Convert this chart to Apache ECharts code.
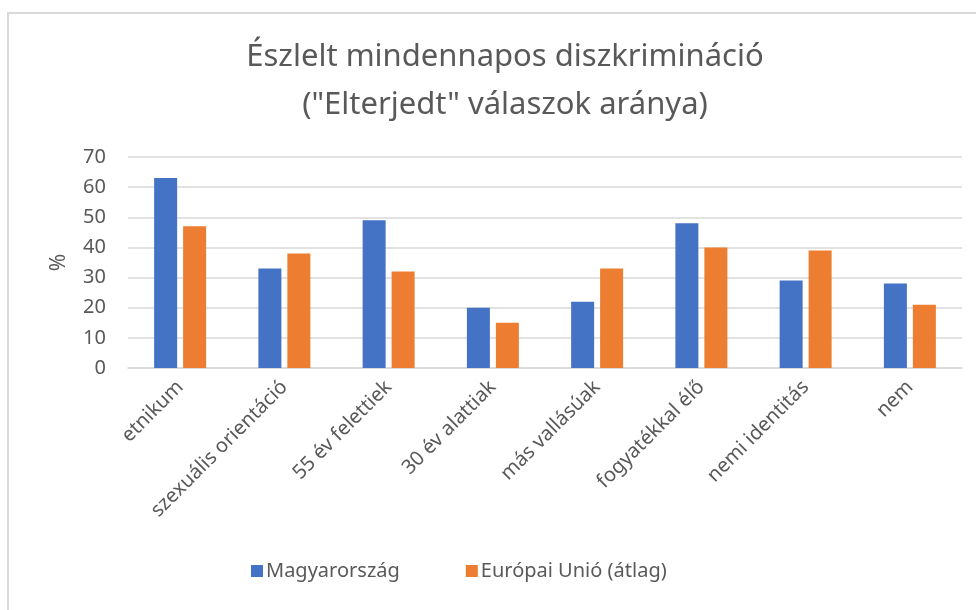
<!DOCTYPE html>
<html>
<head>
<meta charset="utf-8">
<script src="https://cdn.jsdelivr.net/npm/echarts@6/dist/echarts.min.js"></script>
<style>
html, body { margin: 0; padding: 0; background: #fff; }
#frame { position: absolute; left: 7px; top: 12px; width: 980px; height: 610px;
  border-left: 2px solid #d9d9d9; border-top: 2px solid #d9d9d9; }
#chart { position: absolute; left: 0; top: 0; width: 976px; height: 610px; }
</style>
</head>
<body>
<div id="frame"></div>
<div id="chart"></div>
<script>
var categories = ["etnikum", "szexuális orientáció", "55 év felettiek", "30 év alattiak",
    "más vallásúak", "fogyatékkal élő", "nemi identitás", "nem"];
var hungary = [63, 33, 49, 20, 22, 48, 29, 28];
var euAverage = [47, 38, 32, 15, 33, 40, 39, 21];
var yTicks = { min: 0, max: 70, interval: 10 };

var chart = echarts.init(document.getElementById("chart"));
var textColor = "#595959";
var font = "Noto Sans";

var option = {
    backgroundColor: "transparent",
    textStyle: { fontFamily: font },
    title: {
        text: "Észlelt mindennapos diszkrimináció\n(\"Elterjedt\" válaszok aránya)",
        left: 500,
        textAlign: "center",
        top: 28,
        textStyle: {
            fontFamily: font,
            fontSize: 31,
            fontWeight: "normal",
            color: textColor,
            lineHeight: 48
        }
    },
    legend: {
        bottom: 24,
        left: 246,
        itemWidth: 12,
        itemHeight: 12,
        itemGap: 66,
        icon: "rect",
        textStyle: { fontSize: 20, color: textColor, fontFamily: font, padding: [0, 0, 0, -2] },
        data: ["Magyarország", "Európai Unió (átlag)"]
    },
    grid: { left: 128, right: 14, top: 157, bottom: 242, containLabel: false },
    xAxis: {
        type: "category",
        data: categories,
        axisLine: { lineStyle: { color: "#d9d9d9", width: 1.5 } },
        axisTick: { show: false },
        axisLabel: {
            rotate: 45,
            interval: 0,
            fontSize: 20,
            color: textColor,
            margin: 16
        }
    },
    yAxis: {
        type: "value",
        min: yTicks.min,
        max: yTicks.max,
        interval: yTicks.interval,
        name: "%",
        nameLocation: "middle",
        nameGap: 58,
        nameRotate: 90,
        nameTextStyle: { fontSize: 21, color: textColor },
        axisLine: { show: false },
        axisTick: { show: false },
        axisLabel: { fontSize: 20, color: textColor, margin: 22 },
        splitLine: { lineStyle: { color: "#d9d9d9", width: 1.5 } }
    },
    series: [
        {
            name: "Magyarország",
            type: "bar",
            data: hungary,
            barWidth: 23,
            barGap: "26%",
            itemStyle: { color: "#4472c4" }
        },
        {
            name: "Európai Unió (átlag)",
            type: "bar",
            data: euAverage,
            barWidth: 23,
            itemStyle: { color: "#ed7d31" }
        }
    ]
};
chart.setOption(option);
</script>
</body>
</html>
